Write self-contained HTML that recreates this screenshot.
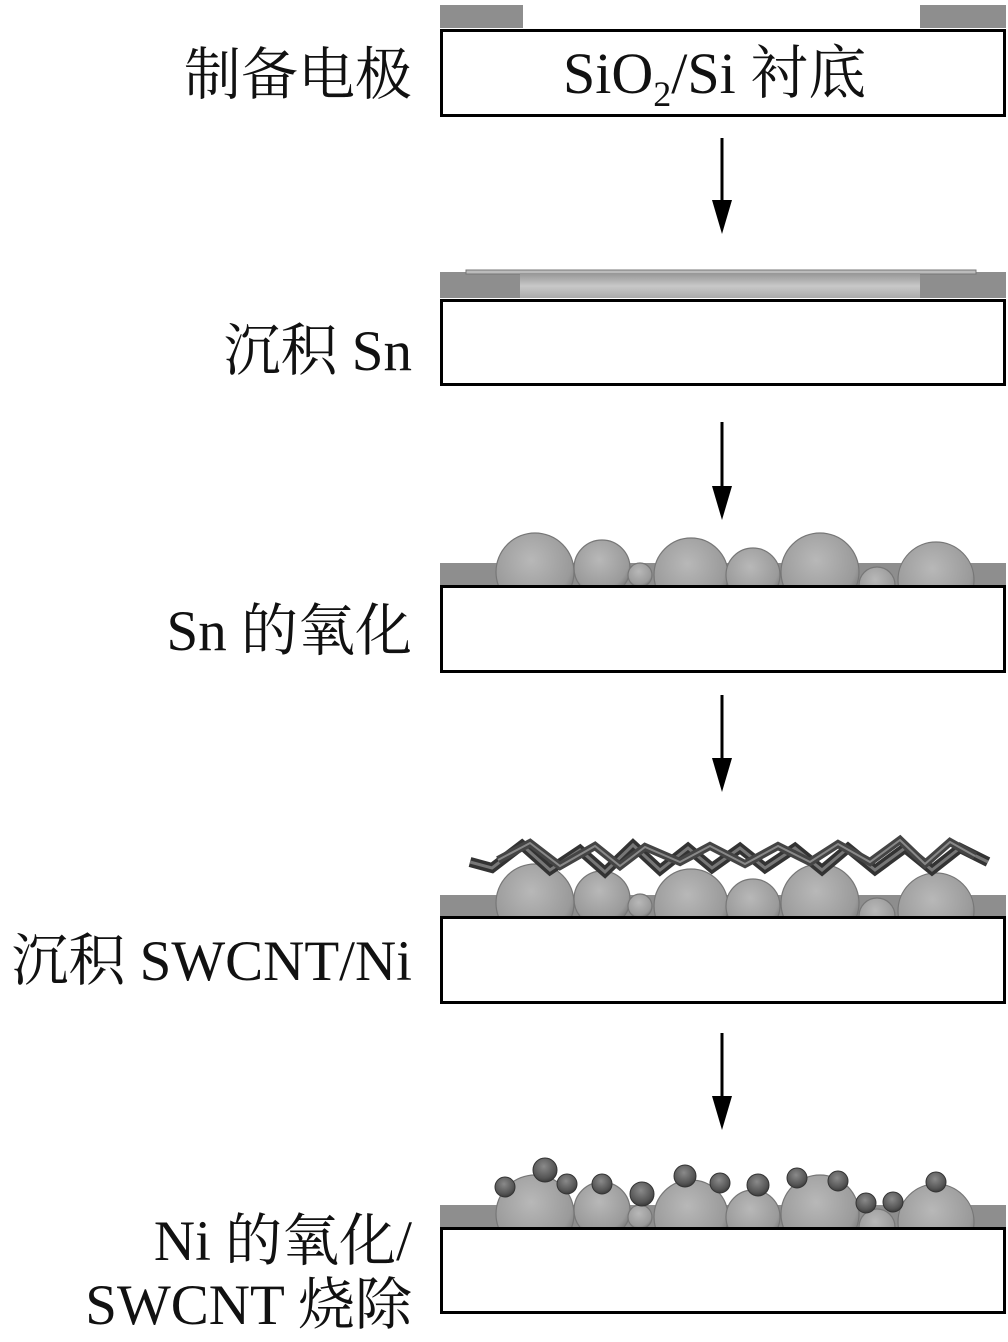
<!DOCTYPE html>
<html><head><meta charset="utf-8"><style>
html,body{margin:0;padding:0;background:#fff}
svg{display:block}
text{font-family:"Liberation Serif","Noto Serif CJK SC",serif;fill:#111}
</style></head><body>
<svg width="1008" height="1342" viewBox="0 0 1008 1342" xmlns="http://www.w3.org/2000/svg">
<defs>
<radialGradient id="ball" cx="0.45" cy="0.35" r="0.7">
<stop offset="0" stop-color="#b8b8b8"/><stop offset="0.75" stop-color="#9a9a9a"/><stop offset="1" stop-color="#6e6e6e"/>
</radialGradient>
<radialGradient id="dot" cx="0.45" cy="0.35" r="0.7">
<stop offset="0" stop-color="#8a8a8a"/><stop offset="0.7" stop-color="#555"/><stop offset="1" stop-color="#333"/>
</radialGradient>
<linearGradient id="sn" x1="0" y1="0" x2="0" y2="1">
<stop offset="0" stop-color="#999"/><stop offset="0.5" stop-color="#c8c8c8"/><stop offset="1" stop-color="#aaa"/>
</linearGradient>
<clipPath id="c3"><rect x="440" y="500" width="566" height="85"/></clipPath>
<clipPath id="c4"><rect x="440" y="800" width="566" height="116"/></clipPath>
<clipPath id="c5"><rect x="440" y="1130" width="566" height="97"/></clipPath>
<g id="balls" stroke="#777" stroke-width="1.2">
<circle cx="535" cy="572" r="39" fill="url(#ball)"/>
<circle cx="602" cy="568" r="28" fill="url(#ball)"/>
<circle cx="640" cy="575" r="12" fill="url(#ball)"/>
<circle cx="691" cy="575" r="37" fill="url(#ball)"/>
<circle cx="753" cy="575" r="27" fill="url(#ball)"/>
<circle cx="820" cy="572" r="39" fill="url(#ball)"/>
<circle cx="877" cy="585" r="18" fill="url(#ball)"/>
<circle cx="936" cy="580" r="38" fill="url(#ball)"/>
</g>
</defs>

<!-- Stage 1 -->
<rect x="440" y="5" width="83" height="23" fill="#8e8e8e"/>
<rect x="920" y="5" width="86" height="23" fill="#8e8e8e"/>
<rect x="441.5" y="30.5" width="563" height="85" fill="#fff" stroke="#000" stroke-width="3"/>
<text x="563" y="93" font-size="58">SiO<tspan font-size="36" dy="13">2</tspan><tspan dy="-13">/Si 衬底</tspan></text>
<text x="412" y="94" font-size="57" text-anchor="end">制备电极</text>

<!-- arrows -->
<g stroke="#000" stroke-width="3">
<line x1="722" y1="138" x2="722" y2="210"/>
<line x1="722" y1="422" x2="722" y2="496"/>
<line x1="722" y1="695" x2="722" y2="768"/>
<line x1="722" y1="1033" x2="722" y2="1106"/>
</g>
<g fill="#000">
<polygon points="712,200 732,200 722,234"/>
<polygon points="712,486 732,486 722,520"/>
<polygon points="712,758 732,758 722,792"/>
<polygon points="712,1096 732,1096 722,1130"/>
</g>

<!-- Stage 2 -->
<rect x="440" y="272" width="566" height="26" fill="#8e8e8e"/>
<rect x="466" y="270" width="510" height="4" fill="#bbb" stroke="#777" stroke-width="1"/>
<rect x="520" y="274" width="400" height="24" fill="url(#sn)"/>
<rect x="441.5" y="300.5" width="563" height="84" fill="#fff" stroke="#000" stroke-width="3"/>
<text x="412" y="370" font-size="57" text-anchor="end">沉积 Sn</text>

<!-- Stage 3 -->
<rect x="440" y="563" width="566" height="22" fill="#8e8e8e"/>
<g clip-path="url(#c3)"><use href="#balls"/></g>
<rect x="441.5" y="586.5" width="563" height="85" fill="#fff" stroke="#000" stroke-width="3"/>
<text x="412" y="650" font-size="57" text-anchor="end">Sn 的氧化</text>

<!-- Stage 4 -->
<rect x="440" y="895" width="566" height="21" fill="#8e8e8e"/>
<g clip-path="url(#c4)"><use href="#balls" transform="translate(0,331)"/></g>
<g fill="none" stroke-linejoin="miter">
<polyline stroke="#333" stroke-width="10" points="470,862 492,868 522,845 550,870 580,850 605,872 633,845 660,870 688,848 712,868 740,848 765,868 795,848 822,870 848,848 875,870 905,848 932,870 960,848 988,862"/>
<polyline stroke="#777" stroke-width="3" points="470,862 492,868 522,845 550,870 580,850 605,872 633,845 660,870 688,848 712,868 740,848 765,868 795,848 822,870 848,848 875,870 905,848 932,870 960,848 988,862"/>
<polyline stroke="#444" stroke-width="8" points="498,860 530,843 560,866 595,846 620,866 645,847 680,862 710,846 745,864 778,846 810,862 838,844 870,862 900,840 925,864 950,842 975,856"/>
<polyline stroke="#888" stroke-width="2" points="498,860 530,843 560,866 595,846 620,866 645,847 680,862 710,846 745,864 778,846 810,862 838,844 870,862 900,840 925,864 950,842 975,856"/>
</g>
<rect x="441.5" y="917.5" width="563" height="85" fill="#fff" stroke="#000" stroke-width="3"/>
<text x="412" y="980" font-size="57" text-anchor="end">沉积 SWCNT/Ni</text>

<!-- Stage 5 -->
<rect x="440" y="1205" width="566" height="22" fill="#8e8e8e"/>
<g clip-path="url(#c5)"><use href="#balls" transform="translate(0,642)"/></g>
<g stroke="#333" stroke-width="1" fill="url(#dot)">
<circle cx="505" cy="1187" r="10"/><circle cx="545" cy="1170" r="12"/><circle cx="567" cy="1184" r="10"/>
<circle cx="602" cy="1184" r="10"/><circle cx="642" cy="1194" r="12"/><circle cx="685" cy="1176" r="11"/>
<circle cx="720" cy="1183" r="10"/><circle cx="758" cy="1185" r="11"/><circle cx="797" cy="1178" r="10"/>
<circle cx="838" cy="1181" r="10"/><circle cx="866" cy="1203" r="10"/><circle cx="893" cy="1202" r="10"/>
<circle cx="936" cy="1182" r="10"/>
</g>
<rect x="441.5" y="1228.5" width="563" height="84" fill="#fff" stroke="#000" stroke-width="3"/>
<text x="412" y="1260" font-size="57" text-anchor="end">Ni 的氧化/</text>
<text x="412" y="1324" font-size="57" text-anchor="end">SWCNT 烧除</text>
</svg>
</body></html>
